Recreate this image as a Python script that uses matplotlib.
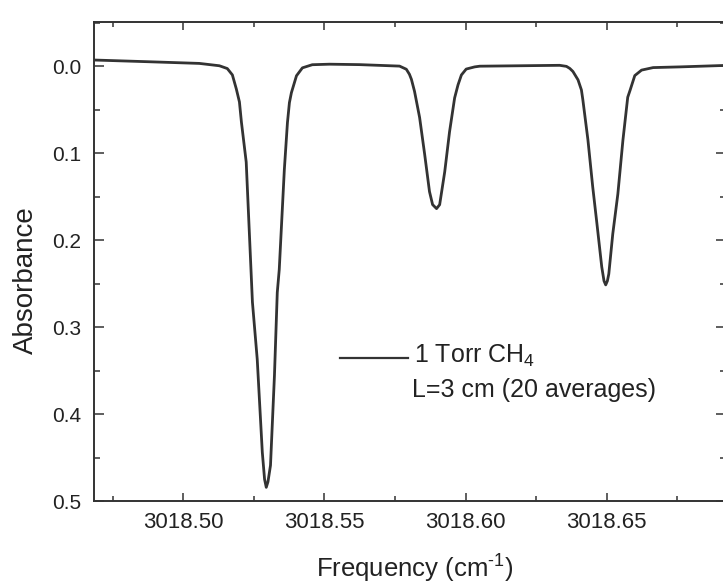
import matplotlib
matplotlib.use("Agg")
import matplotlib.pyplot as plt
from matplotlib.ticker import MultipleLocator, FormatStrFormatter
from matplotlib.lines import Line2D

plt.rcParams['font.family'] = ['Liberation Sans', 'DejaVu Sans']
plt.rcParams['mathtext.fontset'] = 'custom'
plt.rcParams['mathtext.rm'] = 'Liberation Sans'
plt.rcParams['mathtext.it'] = 'Liberation Sans'

# Spectrum (frequency in cm^-1, absorbance)
freq = [3018.4684, 3018.4879, 3018.5057, 3018.5128, 3018.5156, 3018.5174,
        3018.5188, 3018.5199, 3018.5206, 3018.5223, 3018.5245, 3018.5262,
        3018.5280, 3018.5288, 3018.5294, 3018.5300, 3018.5309, 3018.5323,
        3018.5333, 3018.5340, 3018.5358, 3018.5369, 3018.5376, 3018.5383,
        3018.5401, 3018.5422, 3018.5457, 3018.5518, 3018.5624, 3018.5766,
        3018.5790, 3018.5801, 3018.5808, 3018.5819, 3018.5837, 3018.5855,
        3018.5872, 3018.5883, 3018.5897, 3018.5908, 3018.5926, 3018.5943,
        3018.5961, 3018.5973, 3018.5985, 3018.6002, 3018.6032, 3018.6050,
        3018.6191, 3018.6333, 3018.6357, 3018.6369, 3018.6380, 3018.6398,
        3018.6410, 3018.6415, 3018.6433, 3018.6450, 3018.6465, 3018.6482,
        3018.6490, 3018.6496, 3018.6502, 3018.6507, 3018.6521, 3018.6539,
        3018.6557, 3018.6574, 3018.6582, 3018.6599, 3018.6623, 3018.6664,
        3018.6759, 3018.6911]
absorb = [-0.0069, -0.0049, -0.0030, -0.0003, 0.0029, 0.0102,
          0.0264, 0.0413, 0.0644, 0.1104, 0.2714, 0.3370,
          0.4440, 0.4750, 0.4843, 0.4780, 0.4590, 0.3557,
          0.2603, 0.2339, 0.1191, 0.0651, 0.0421, 0.0307,
          0.0112, 0.0021, -0.0015, -0.0021, -0.0016, 0.0001,
          0.0037, 0.0095, 0.0153, 0.0291, 0.0591, 0.1017,
          0.1443, 0.1593, 0.1639, 0.1594, 0.1215, 0.0757,
          0.0367, 0.0217, 0.0103, 0.0035, 0.0010, 0.0002,
          -0.0003, -0.0008, 0.0004, 0.0028, 0.0063, 0.0159,
          0.0275, 0.0386, 0.0847, 0.1388, 0.1814, 0.2309,
          0.2470, 0.2516, 0.2470, 0.2390, 0.1931, 0.1472,
          0.0852, 0.0359, 0.0282, 0.0110, 0.0047, 0.0018,
          0.0010, -0.0006]

legend_line1 = "1 Torr CH$_4$"
legend_line2 = "L=3 cm (20 averages)"
xlabel = r"Frequency (cm$^{\text{-1}}$)"
ylabel = "Absorbance"

ink = '#333333'
fig = plt.figure(figsize=(7.23, 5.84), dpi=100)
ax = fig.add_axes([94/723, 1 - 501/584, 632/723, 479/584])

ax.plot(freq, absorb, color=ink, lw=2.0, solid_joinstyle='round')

ax.set_xlim(3018.4684, 3018.6922)
ax.set_ylim(0.5, -0.0506)

ax.xaxis.set_major_locator(MultipleLocator(0.05))
ax.xaxis.set_minor_locator(MultipleLocator(0.025))
ax.yaxis.set_major_locator(MultipleLocator(0.1))
ax.yaxis.set_minor_locator(MultipleLocator(0.05))
ax.xaxis.set_major_formatter(FormatStrFormatter('%.2f'))
ax.yaxis.set_major_formatter(FormatStrFormatter('%.1f'))

for s in ax.spines.values():
    s.set_color(ink)
    s.set_linewidth(1.4)
ax.spines['right'].set_visible(False)

ax.tick_params(axis='both', which='both', direction='in', color=ink,
               top=True, right=True, width=1.1)
ax.tick_params(axis='y', which='major', length=7, pad=9, labelsize=15,
               labelcolor='#222222')
ax.tick_params(axis='y', which='minor', length=4)
ax.tick_params(axis='x', which='major', length=6, pad=8, labelsize=16,
               labelcolor='#222222')
ax.tick_params(axis='x', which='minor', length=3.5)

ax.set_xlabel(xlabel, fontsize=18.5, color='#222222')
ax.xaxis.label.set_va('baseline')
ax.xaxis.set_label_coords(0.508, -0.1608)
ax.set_ylabel(ylabel, fontsize=20, color='#222222')
ax.yaxis.label.set_va('baseline')
ax.yaxis.set_label_coords(-0.0965, 0.461)

# legend drawn by hand
ax.add_line(Line2D([0.389, 0.497], [0.2985, 0.2985], transform=ax.transAxes,
                   color=ink, lw=1.6))
ax.text(0.506, 0.288, legend_line1, transform=ax.transAxes, fontsize=18,
        color='#222222', va='baseline', ha='left')
ax.text(0.503, 0.217, legend_line2, transform=ax.transAxes, fontsize=18,
        color='#222222', va='baseline', ha='left')

fig.savefig('out.png', dpi=100)
